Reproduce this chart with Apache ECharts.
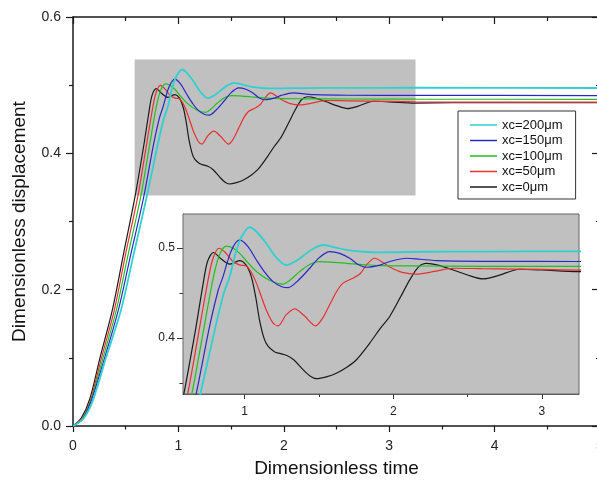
<!DOCTYPE html>
<html>
<head>
<meta charset="utf-8">
<script src="https://cdn.jsdelivr.net/npm/echarts@6/dist/echarts.min.js"></script>
<style>
  html, body { margin: 0; padding: 0; background: #fff; }
  #chart { width: 597px; height: 481px; }
</style>
</head>
<body>
<div id="chart"></div>
<script>
// Dimensionless displacement vs dimensionless time, [t, displacement] pairs
const xc0 = [[0,0],[0.08,0.012],[0.16,0.04],[0.256,0.1],[0.373,0.17],[0.48,0.253],[0.588,0.336],[0.67,0.41],[0.72,0.46],[0.75,0.485],[0.79,0.495],[0.84,0.488],[0.9,0.482],[0.966,0.486],[1.01,0.481],[1.045,0.468],[1.075,0.445],[1.10,0.42],[1.13,0.40],[1.157,0.391],[1.2,0.385],[1.236,0.383],[1.28,0.381],[1.33,0.376],[1.393,0.365],[1.44,0.358],[1.483,0.355],[1.55,0.357],[1.617,0.361],[1.69,0.368],[1.752,0.376],[1.842,0.3945],[1.909,0.41],[1.976,0.424],[2.05,0.446],[2.111,0.4646],[2.17,0.479],[2.224,0.483],[2.3,0.481],[2.403,0.4756],[2.5,0.47],[2.605,0.4657],[2.7,0.469],[2.852,0.4764],[3.0,0.4756],[3.245,0.4738],[3.6,0.4742],[4.2,0.4742],[5,0.4742]];
const xc50 = [[0,0],[0.09,0.012],[0.17,0.04],[0.27,0.1],[0.392,0.17],[0.50,0.253],[0.614,0.336],[0.70,0.415],[0.76,0.47],[0.79,0.49],[0.827,0.4997],[0.87,0.495],[0.921,0.485],[0.97,0.481],[1.011,0.48],[1.045,0.473],[1.079,0.461],[1.11,0.447],[1.146,0.431],[1.19,0.417],[1.224,0.4136],[1.28,0.426],[1.337,0.4325],[1.40,0.425],[1.478,0.4136],[1.52,0.421],[1.572,0.437],[1.62,0.452],[1.662,0.461],[1.729,0.4665],[1.78,0.472],[1.819,0.481],[1.875,0.4886],[1.93,0.484],[1.976,0.479],[2.06,0.473],[2.156,0.471],[2.28,0.474],[2.403,0.4775],[2.6,0.477],[3.0,0.4762],[3.25,0.4755],[4,0.475],[5,0.475]];
const xc100 = [[0,0],[0.095,0.012],[0.175,0.04],[0.285,0.1],[0.411,0.17],[0.525,0.253],[0.642,0.336],[0.73,0.415],[0.79,0.468],[0.83,0.492],[0.877,0.502],[0.92,0.5],[0.966,0.494],[1.02,0.484],[1.079,0.474],[1.17,0.464],[1.258,0.46],[1.31,0.465],[1.37,0.4738],[1.44,0.482],[1.505,0.4848],[1.6,0.484],[1.684,0.483],[1.8,0.4815],[1.909,0.4805],[2.2,0.48],[2.6,0.4797],[3.25,0.4795],[5,0.4792]];
const xc150 = [[0,0],[0.1,0.012],[0.18,0.04],[0.3,0.1],[0.43,0.17],[0.55,0.253],[0.671,0.336],[0.76,0.41],[0.82,0.452],[0.854,0.468],[0.91,0.497],[0.966,0.509],[1.02,0.502],[1.079,0.4867],[1.14,0.472],[1.191,0.4627],[1.25,0.457],[1.292,0.456],[1.36,0.464],[1.438,0.4775],[1.5,0.489],[1.572,0.496],[1.64,0.494],[1.707,0.4886],[1.76,0.482],[1.819,0.4786],[1.909,0.481],[1.976,0.485],[2.089,0.4886],[2.18,0.4875],[2.29,0.486],[2.6,0.4852],[3.25,0.485],[5,0.4848]];
const xc200 = [[0,0],[0.1,0.011],[0.19,0.038],[0.313,0.1],[0.455,0.17],[0.58,0.255],[0.699,0.336],[0.8,0.41],[0.86,0.45],[0.899,0.468],[0.94,0.495],[0.978,0.512],[1.034,0.523],[1.08,0.518],[1.146,0.505],[1.21,0.49],[1.281,0.481],[1.35,0.486],[1.415,0.494],[1.47,0.5],[1.527,0.5033],[1.6,0.501],[1.684,0.4978],[1.8,0.4958],[1.909,0.4952],[2.2,0.4958],[2.6,0.496],[3.25,0.4962],[5,0.4958]];

const seriesNames = ['xc=200μm', 'xc=150μm', 'xc=100μm', 'xc=50μm', 'xc=0μm'];
const seriesData = [xc200, xc150, xc100, xc50, xc0];
const seriesColors = ['#30d0d0', '#2828c8', '#20c020', '#e83030', '#1a1a1a'];
const seriesWidths = [1.8, 1.2, 1.2, 1.2, 1.2];

// Main axis ranges
const mainX = [0, 5];
const mainY = [0, 0.6];
// Magnified window (shaded in the main plot, drawn again in the inset)
const zoomX = [0.585, 3.25];
const zoomY = [0.338, 0.5377];
const insetXMajor = [1, 2, 3];
const insetXMinor = [1.5, 2.5];
const insetYMajor = [0.4, 0.5];
const insetYMinor = [0.35, 0.45];

const FONT = "'Liberation Sans', Arial, sans-serif";
const AX = '#1a1a1a';
const GRAY = '#c0c0c0';

const chart = echarts.init(document.getElementById('chart'), null, { renderer: 'canvas' });

const series = [];
// draw order: black first, cyan last
for (let k = seriesNames.length - 1; k >= 0; k--) {
  for (let g = 0; g < 2; g++) {
    series.push({
      type: 'line',
      name: seriesNames[k],
      xAxisIndex: g === 0 ? 0 : 2,
      yAxisIndex: g === 0 ? 0 : 2,
      data: seriesData[k],
      smooth: 0.3,
      symbol: 'none',
      clip: true,
      z: g === 0 ? 3 : 8,
      lineStyle: { color: seriesColors[k], width: seriesWidths[k] },
      itemStyle: { color: seriesColors[k] },
      emphasis: { disabled: true },
      silent: true
    });
  }
}
// shaded zoom window in the main plot
series.push({
  type: 'line',
  xAxisIndex: 0,
  yAxisIndex: 0,
  data: [],
  silent: true,
  markArea: {
    silent: true,
    z: 1,
    itemStyle: { color: GRAY },
    data: [[{ xAxis: zoomX[0], yAxis: zoomY[0] }, { xAxis: zoomX[1], yAxis: zoomY[1] }]]
  }
});

const insetX = (vals, len, labels) => ({
  type: 'value', gridIndex: 1, position: 'bottom', min: zoomX[0], max: zoomX[1],
  axisLine: { show: labels, onZero: false, lineStyle: { color: '#555', width: 1 } },
  axisTick: { show: true, customValues: vals, length: len, lineStyle: { color: '#333', width: 1 } },
  axisLabel: { show: labels, customValues: vals, margin: 12, fontSize: 12, color: '#222', fontFamily: FONT },
  splitLine: { show: false }
});
const insetY = (vals, len, labels) => ({
  type: 'value', gridIndex: 1, position: 'left', min: zoomY[0], max: zoomY[1],
  axisLine: { show: labels, onZero: false, lineStyle: { color: '#555', width: 1 } },
  axisTick: { show: true, customValues: vals, length: len, lineStyle: { color: '#333', width: 1 } },
  axisLabel: { show: labels, customValues: vals, margin: 8, fontSize: 12, color: '#222', fontFamily: FONT,
    formatter: v => v.toFixed(1) },
  splitLine: { show: false }
});

chart.setOption({
  animation: false,
  backgroundColor: '#fff',
  textStyle: { fontFamily: FONT },
  grid: [
    { left: 73, top: 17, width: 527, height: 409, containLabel: false, outerBoundsMode: 'none' },
    { left: 183, top: 214, width: 396, height: 180, show: true, backgroundColor: GRAY,
      borderColor: '#666', borderWidth: 1, z: 5, outerBoundsMode: 'none' }
  ],
  legend: {
    data: seriesNames.map((n, i) => ({ name: n, icon: 'rect', itemStyle: { color: seriesColors[i] } })),
    orient: 'vertical',
    left: 458,
    top: 111,
    padding: [7, 13, 5, 12],
    itemWidth: 27,
    itemHeight: 1.5,
    itemGap: 1.5,
    backgroundColor: '#fff',
    borderColor: '#333',
    borderWidth: 1,
    z: 10,
    selectedMode: false,
    textStyle: { fontSize: 13, lineHeight: 14, color: '#111', fontFamily: FONT }
  },
  xAxis: [
    {
      type: 'value', gridIndex: 0, position: 'bottom', min: mainX[0], max: mainX[1], interval: 1,
      name: 'Dimensionless time', nameLocation: 'middle', nameGap: 33,
      nameTextStyle: { fontSize: 19, color: '#111', fontFamily: FONT },
      axisLine: { onZero: false, lineStyle: { color: AX, width: 1.5 } },
      axisTick: { length: 6, lineStyle: { color: AX, width: 1.2 } },
      minorTick: { show: true, splitNumber: 2, length: 3.5, lineStyle: { color: AX, width: 1.2 } },
      axisLabel: { margin: 13, fontSize: 14, color: '#222', fontFamily: FONT },
      splitLine: { show: false }
    },
    {
      type: 'value', gridIndex: 0, position: 'top', min: mainX[0], max: mainX[1], interval: 1,
      axisLine: { onZero: false, lineStyle: { color: AX, width: 1.5 } },
      axisTick: { inside: true, length: 7, lineStyle: { color: AX, width: 1.2 } },
      minorTick: { show: true, splitNumber: 2, length: 4, lineStyle: { color: AX, width: 1.2 } },
      axisLabel: { show: false },
      splitLine: { show: false }
    },
    insetX(insetXMajor, 5, true),
    insetX(insetXMinor, 3, false)
  ],
  yAxis: [
    {
      type: 'value', gridIndex: 0, position: 'left', min: mainY[0], max: mainY[1], interval: 0.2,
      name: 'Dimensionless displacement', nameLocation: 'middle', nameGap: 44,
      nameTextStyle: { fontSize: 19, color: '#111', fontFamily: FONT },
      axisLine: { onZero: false, lineStyle: { color: AX, width: 1.5 } },
      axisTick: { length: 7, lineStyle: { color: AX, width: 1.2 } },
      minorTick: { show: true, splitNumber: 2, length: 4, lineStyle: { color: AX, width: 1.2 } },
      axisLabel: { margin: 12, fontSize: 14, color: '#222', fontFamily: FONT, formatter: v => v.toFixed(1) },
      splitLine: { show: false }
    },
    {
      type: 'value', gridIndex: 0, position: 'right', min: mainY[0], max: mainY[1], interval: 0.2,
      axisLine: { onZero: false, lineStyle: { color: AX, width: 1.5 } },
      axisTick: { inside: true, length: 8, lineStyle: { color: AX, width: 1.2 } },
      minorTick: { show: true, splitNumber: 2, length: 4, lineStyle: { color: AX, width: 1.2 } },
      axisLabel: { show: false },
      splitLine: { show: false }
    },
    insetY(insetYMajor, 6, true),
    insetY(insetYMinor, 3.5, false)
  ],
  series: series
});
</script>
</body>
</html>
